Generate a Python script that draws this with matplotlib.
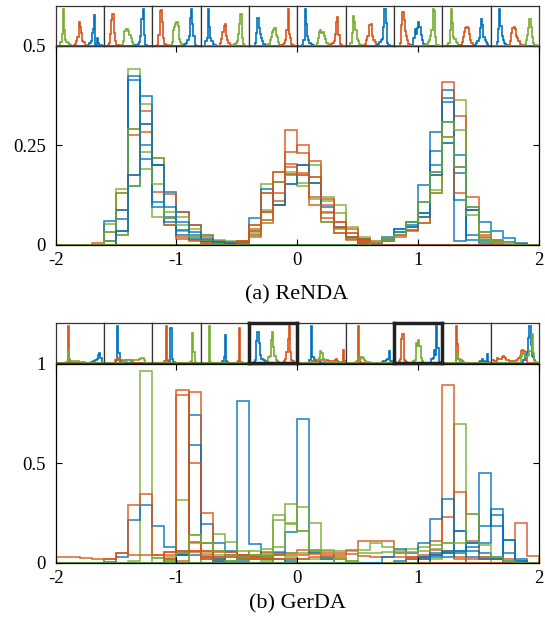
import numpy as np
import matplotlib
matplotlib.use('Agg')
import matplotlib.pyplot as plt

plt.rcParams['font.family'] = ['Liberation Serif', 'DejaVu Serif']
plt.rcParams['axes.unicode_minus'] = False

COLORS = {'B': '#0072BD', 'O': '#D95319', 'G': '#77AC30'}
edges = np.round(np.linspace(-2, 2, 41), 2)   # 0.1 wide bins

# ---------------- (a) ReNDA : 10 runs, one class per cluster ----------------
renda_order = [('G', 'O', 'B'), ('O', 'G', 'B'), ('O', 'G', 'B'), ('B', 'O', 'G'),
               ('B', 'G', 'O'), ('B', 'G', 'O'), ('G', 'O', 'B'), ('O', 'B', 'G'),
               ('G', 'O', 'B'), ('B', 'O', 'G')]
# left cluster, bins starting at -1.7
renda_left = [
    [0, 0.053, 0.141, 0.443, 0.19, 0.07, 0.05, 0.035, 0.02, 0.01, 0.005, 0.003, 0],
    [0.005, 0.032, 0.13, 0.275, 0.336, 0.133, 0.05, 0.015, 0.012, 0.006, 0.004, 0.002, 0],
    [0, 0.01, 0.089, 0.292, 0.305, 0.2, 0.067, 0.02, 0.01, 0.005, 0.002, 0, 0],
    [0, 0.059, 0.089, 0.425, 0.215, 0.096, 0.058, 0.024, 0.015, 0.01, 0.005, 0.004, 0],
    [0, 0, 0.036, 0.149, 0.305, 0.2, 0.133, 0.084, 0.05, 0.025, 0.01, 0.008, 0],
    [0, 0.01, 0.065, 0.414, 0.25, 0.108, 0.07, 0.037, 0.024, 0.01, 0.008, 0.004, 0],
    [0, 0.032, 0.13, 0.292, 0.234, 0.153, 0.067, 0.05, 0.02, 0.012, 0.006, 0.004, 0],
    [0, 0, 0.024, 0.175, 0.284, 0.218, 0.128, 0.084, 0.05, 0.02, 0.01, 0.007, 0],
    [0, 0.01, 0.024, 0.149, 0.353, 0.218, 0.084, 0.07, 0.04, 0.025, 0.012, 0.01, 0.005],
    [0, 0, 0.036, 0.175, 0.375, 0.2, 0.096, 0.058, 0.032, 0.015, 0.008, 0.005, 0],
]
# middle cluster, bins starting at -0.6
renda_mid = [
    [0, 0.01, 0.024, 0.062, 0.11, 0.288, 0.231, 0.155, 0.058, 0.042, 0.015, 0.005, 0],
    [0, 0.01, 0.05, 0.154, 0.183, 0.179, 0.155, 0.116, 0.08, 0.04, 0.02, 0.013, 0],
    [0, 0.005, 0.034, 0.13, 0.158, 0.183, 0.2, 0.17, 0.058, 0.03, 0.017, 0.015, 0],
    [0, 0.005, 0.034, 0.082, 0.158, 0.234, 0.252, 0.12, 0.067, 0.03, 0.013, 0.005, 0],
    [0, 0.01, 0.024, 0.062, 0.1, 0.154, 0.175, 0.2, 0.12, 0.1, 0.044, 0.01, 0],
    [0, 0.004, 0.03, 0.087, 0.158, 0.179, 0.148, 0.155, 0.11, 0.08, 0.03, 0.019, 0],
    [0, 0.004, 0.02, 0.054, 0.1, 0.204, 0.2, 0.21, 0.1, 0.058, 0.04, 0.01, 0],
    [0, 0.008, 0.067, 0.14, 0.1, 0.154, 0.2, 0.155, 0.095, 0.046, 0.02, 0.015, 0],
    [0, 0.01, 0.04, 0.082, 0.13, 0.175, 0.18, 0.17, 0.116, 0.058, 0.03, 0.009, 0],
    [0, 0.005, 0.05, 0.13, 0.183, 0.195, 0.175, 0.1, 0.082, 0.046, 0.02, 0.014, 0],
]
# right cluster, bins starting at 0.5
renda_right = [
    [0, 0.005, 0.015, 0.04, 0.058, 0.15, 0.2, 0.37, 0.01, 0.095, 0.033, 0.012, 0.008, 0.004],
    [0, 0.005, 0.01, 0.025, 0.046, 0.108, 0.285, 0.39, 0.113, 0.013, 0.005, 0, 0, 0],
    [0, 0.005, 0.015, 0.025, 0.05, 0.08, 0.236, 0.31, 0.18, 0.087, 0.012, 0, 0, 0],
    [0, 0.005, 0.01, 0.025, 0.038, 0.054, 0.137, 0.255, 0.363, 0.087, 0.017, 0.009, 0, 0],
    [0.005, 0.01, 0.015, 0.025, 0.038, 0.07, 0.175, 0.41, 0.13, 0.087, 0.025, 0.01, 0, 0],
    [0, 0.005, 0.01, 0.02, 0.035, 0.054, 0.13, 0.27, 0.325, 0.12, 0.02, 0.01, 0.001, 0],
    [0, 0.005, 0.02, 0.04, 0.058, 0.07, 0.183, 0.36, 0.225, 0.025, 0.009, 0.005, 0, 0],
    [0, 0.005, 0.015, 0.033, 0.046, 0.08, 0.13, 0.31, 0.29, 0.075, 0.01, 0.006, 0, 0],
    [0, 0.005, 0.01, 0.033, 0.046, 0.08, 0.175, 0.255, 0.197, 0.087, 0.058, 0.035, 0.017, 0.002],
    [0, 0.005, 0.01, 0.025, 0.058, 0.108, 0.183, 0.27, 0.197, 0.095, 0.033, 0.01, 0.006, 0],
]
renda_starts = (-1.7, -0.6, 0.5)

# ---------------- (b) GerDA : (start, heights) per run and class ----------------
gerda_blue = [
    (0.8, [0.01, 0.02, 0.03, 0.04, 0.05, 0.06, 0.1, 0.183, 0.242, 0.115, 0.01]),
    (-1.0, [0.05, 0.742, 0.194, 0.01]),
    (-0.6, [0.04, 0.81, 0.096, 0.03, 0.02]),
    (-0.2, [0.05, 0.154, 0.72, 0.05, 0.02]),
    (-1.6, [0.005, 0.03, 0.212, 0.291, 0.186, 0.078, 0.04, 0.04, 0.03, 0.02, 0.01, 0.01]),
    (-1.0, [0.04, 0.59, 0.1, 0.1, 0.06, 0.03, 0.03, 0.02, 0.02, 0.01]),
    (1.0, [0.03, 0.04, 0.05, 0.06, 0.08, 0.1, 0.268, 0.05, 0.01]),
    (1.1, [0.05, 0.06, 0.158, 0.1, 0.449, 0.183, 0.01]),
    (1.0, [0.02, 0.03, 0.03, 0.05, 0.03, 0.02, 0.02, 0.115, 0.02]),
    (0.7, [0.03, 0.068, 0.047, 0.098, 0.22, 0.32, 0.158, 0.06, 0.05, 0.03]),
]
gerda_orange = [
    (-1.1, [0.02, 0.868, 0.06, 0.02, 0.01]),
    (-1.1, [0.055, 0.06, 0.105, 0.06, 0.054, 0.054, 0.04, 0.04, 0.054, 0.056, 0.05, 0.064, 0.056, 0.04, 0.03]),
    (-1.0, [0.04, 0.857, 0.06, 0.02]),
    (1.0, [0.02, 0.064, 0.895, 0.02]),
    (0.9, [0.02, 0.04, 0.107, 0.23, 0.353, 0.107, 0.03, 0.02]),
    (-0.8, [0.03, 0.03, 0.04, 0.04, 0.035, 0.035, 0.04, 0.04, 0.04, 0.045, 0.05, 0.05, 0.045, 0.035,
            0.03, 0.03, 0.03, 0.03, 0.03, 0.04, 0.06, 0.03, 0.02, 0.02, 0.02, 0.02, 0.2, 0.034]),
    (-1.1, [0.038, 0.843, 0.06, 0.02]),
    (-1.6, [0.02, 0.047, 0.288, 0.347, 0.038, 0.02, 0.01]),
    (-0.9, [0.5, 0.25, 0.06, 0.054, 0.04, 0.03, 0.02]),
    (-2.0, [0.027, 0.027, 0.025, 0.02, 0.02, 0.047, 0.038, 0.038, 0.038, 0.055, 0.06, 0.054, 0.04,
            0.03, 0.03, 0.02, 0.02, 0.02, 0.02, 0.02, 0.02, 0.03, 0.03, 0.04, 0.064, 0.107, 0.11,
            0.107, 0.05, 0.03]),
]
gerda_green = [
    (-1.1, [0.01, 0.315, 0.1, 0.05, 0.04, 0.03, 0.03, 0.04, 0.05, 0.04, 0.03, 0.02, 0.02, 0.02, 0.02]),
    (-0.5, [0.02, 0.02, 0.03, 0.04, 0.05, 0.05, 0.06, 0.064, 0.06, 0.06, 0.05, 0.05, 0.056, 0.06,
            0.07, 0.08, 0.09, 0.1, 0.06]),
    (1.1, [0.02, 0.05, 0.695, 0.247, 0.03]),
    (-1.4, [0.008, 0.961, 0.025, 0.006]),
    (-0.6, [0.01, 0.02, 0.06, 0.067, 0.215, 0.294, 0.157, 0.064, 0.03, 0.02, 0.01]),
    (-0.4, [0.02, 0.04, 0.08, 0.196, 0.157, 0.064, 0.03, 0.02, 0.01]),
    (-1.2, [0.025, 0.03, 0.05, 0.14, 0.1, 0.143, 0.104, 0.06, 0.04, 0.03, 0.02, 0.02]),
    (-0.4, [0.02, 0.04, 0.238, 0.2, 0.28, 0.2, 0.06, 0.02]),
    (-0.9, [0.14, 0.1, 0.06, 0.04, 0.03, 0.02, 0.01]),
    (0.5, [0.064, 0.098, 0.08, 0.05, 0.056, 0.06, 0.07, 0.1, 0.1, 0.247, 0.09, 0.03, 0.01]),
]
highlight_b = [4, 7]   # runs drawn with a thick frame in (b)


def to_bins(start, heights):
    v = np.zeros(len(edges) - 1)
    i = int(round((start + 2) / 0.1))
    v[i:i + len(heights)] = heights[:len(v) - i]
    return v


renda_runs = []
for k in range(10):
    run = []
    for c, start, prof in zip(renda_order[k], renda_starts,
                              (renda_left[k], renda_mid[k], renda_right[k])):
        run.append((c, to_bins(start, prof)))
    renda_runs.append(run)

gerda_runs = []
for k in range(10):
    gerda_runs.append([('B', to_bins(*gerda_blue[k])),
                       ('O', to_bins(*gerda_orange[k])),
                       ('G', to_bins(*gerda_green[k]))])

fig = plt.figure(figsize=(5.45, 6.28), dpi=100)
L, W = 0.102, 0.887


def panel(runs, main_bottom, strip_bottom, ylim, yticks, yticklabels, caption, cap_y, thick=()):
    ax = fig.add_axes([L, main_bottom, W, 0.317])
    for run in runs:
        for c, v in run:
            ax.stairs(v, edges, color=COLORS[c], lw=1.1, alpha=0.9)
    ax.set_xlim(-2, 2)
    ax.set_ylim(*ylim)
    ax.set_xticks([-2, -1, 0, 1, 2])
    ax.set_xticklabels(['-2', '-1', '0', '1', '2'])
    ax.set_yticks(yticks)
    ax.set_yticklabels(yticklabels)
    ax.tick_params(direction='in', top=True, right=True, labelsize=13.5, length=4, width=0.8)
    ax.tick_params(axis='x', pad=5)
    ax.tick_params(axis='y', pad=7)
    for s in ax.spines.values():
        s.set_linewidth(0.9)

    wi = W / 10
    for k, run in enumerate(runs):
        ia = fig.add_axes([L + k * wi, strip_bottom, wi, 0.0637])
        top = max(v.max() for _, v in run)
        for c, v in run:
            ia.stairs(v, edges, color=COLORS[c], lw=1.2, baseline=None)
        ia.set_xlim(-2, 2)
        ia.set_ylim(0, top * 1.08)
        ia.set_xticks([])
        ia.set_yticks([])
        for s in ia.spines.values():
            if k in thick:
                s.set_linewidth(2.5)
                s.set_color('#222222')
            else:
                s.set_linewidth(0.9)
                s.set_color('#333333')
        if k in thick:
            ia.set_zorder(5)
    fig.text(0.545, cap_y, caption, ha='center', va='center', fontsize=16)


panel(renda_runs, 0.6099, 0.9268, (0, 0.5), [0, 0.25, 0.5], ['0', '0.25', '0.5'],
      '(a) ReNDA', 0.530)
panel(gerda_runs, 0.104, 0.422, (0, 1), [0, 0.5, 1], ['0', '0.5', '1'],
      '(b) GerDA', 0.038, thick=highlight_b)

fig.savefig('out.png', dpi=100)
